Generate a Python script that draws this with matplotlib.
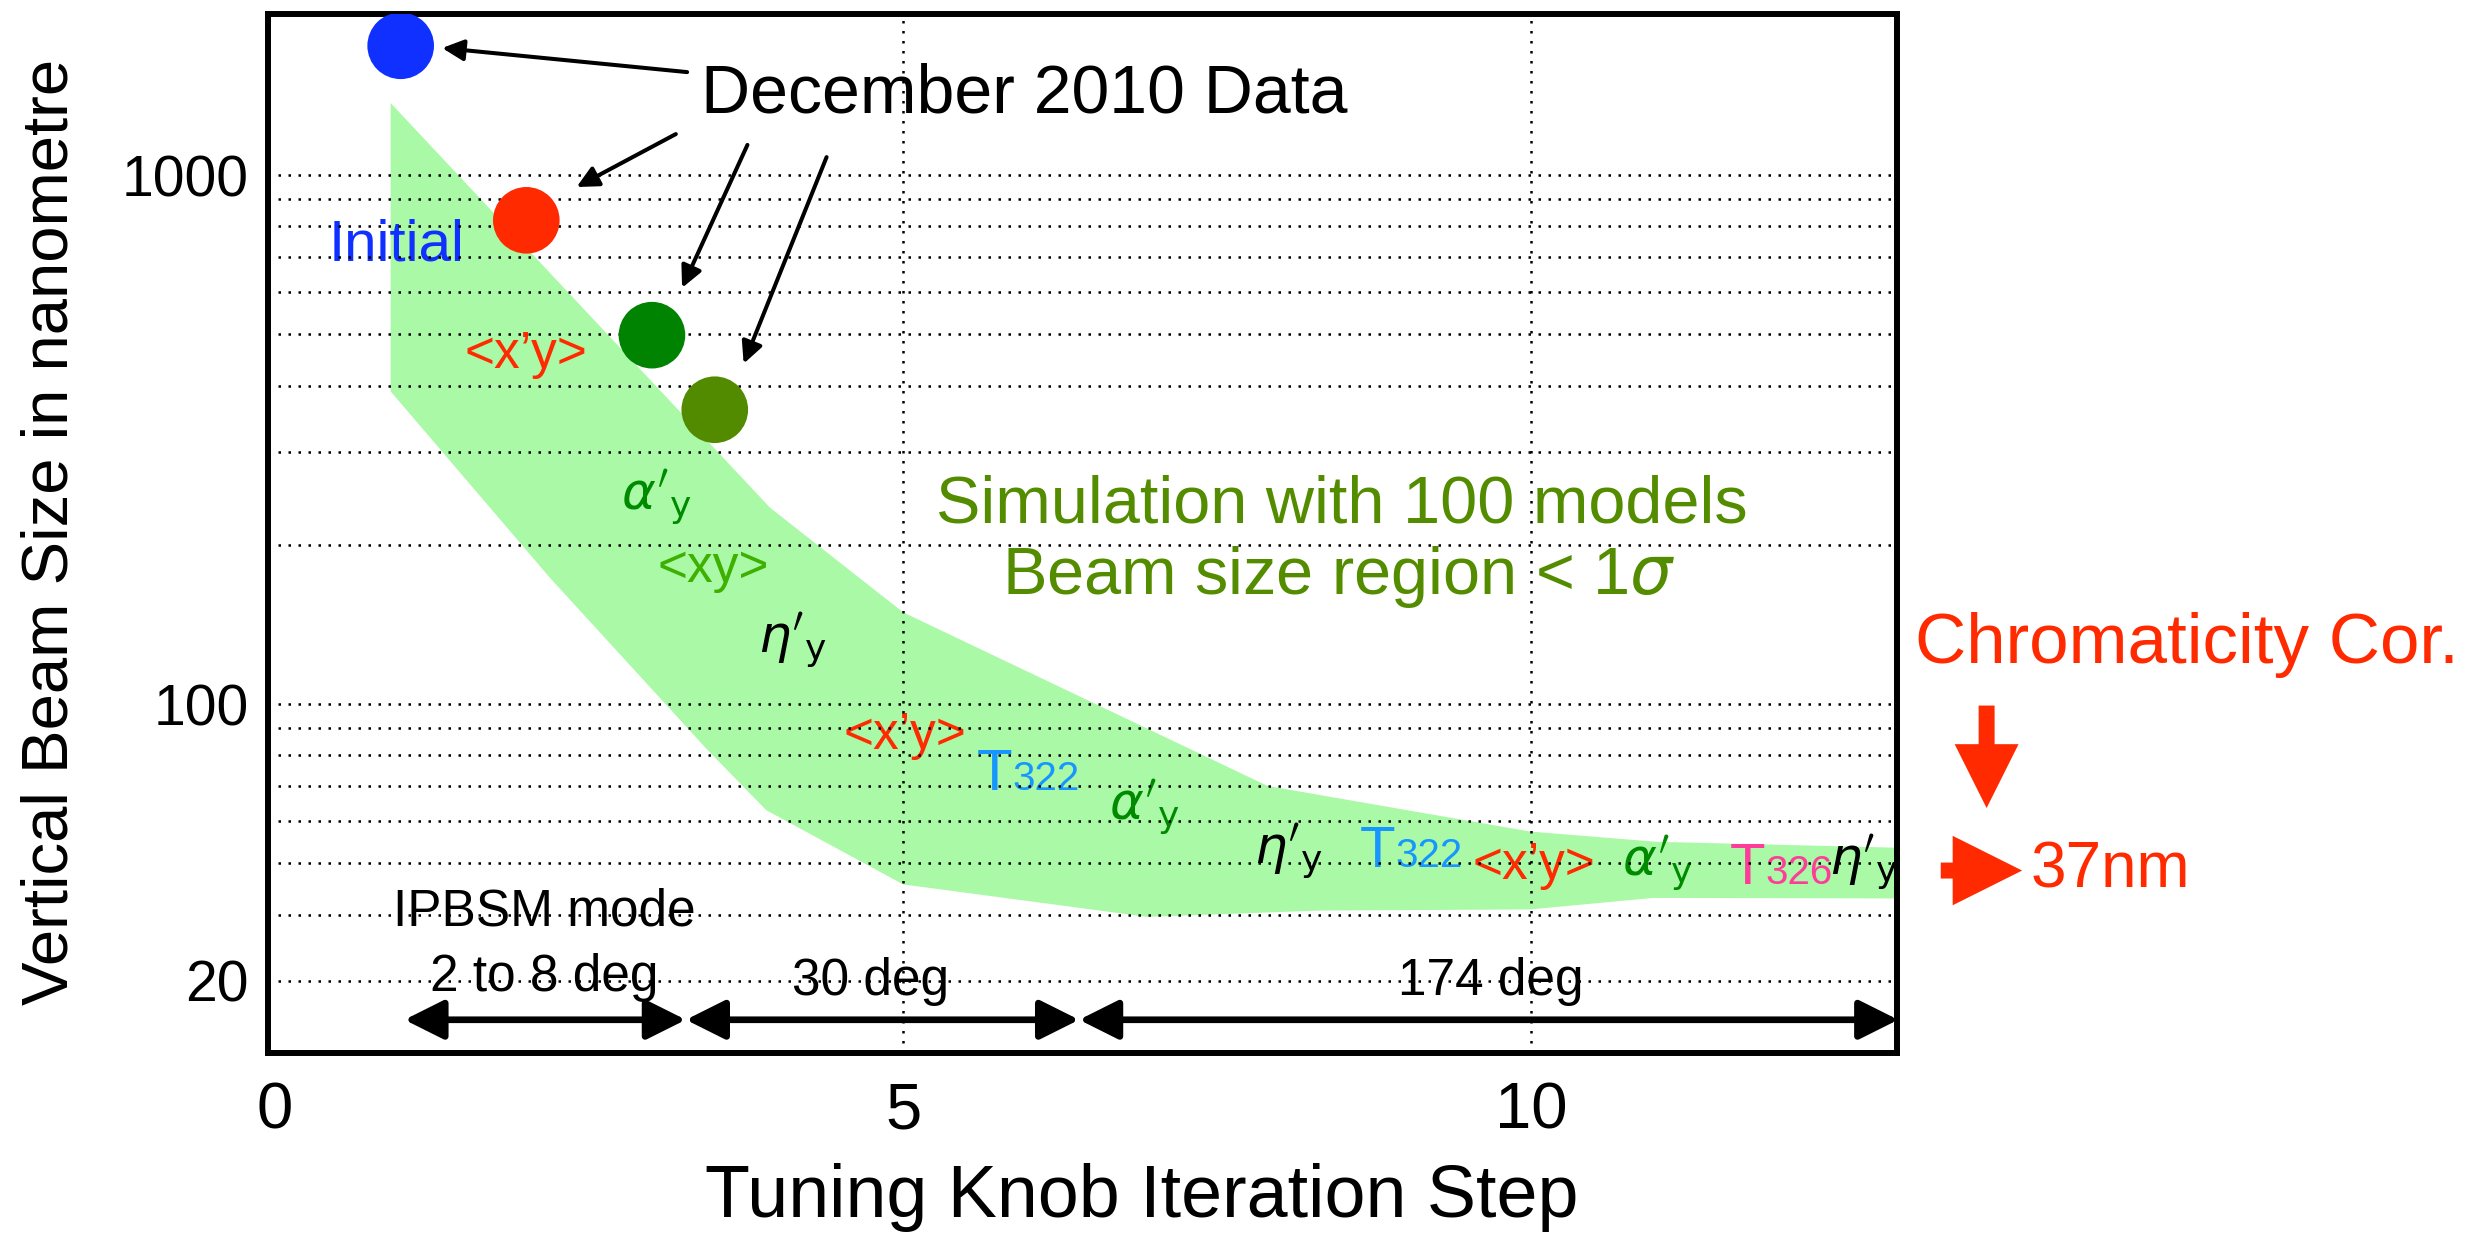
import matplotlib.pyplot as plt
from matplotlib.ticker import NullFormatter

plt.rcParams['font.family'] = ['Liberation Sans', 'DejaVu Sans']
plt.rcParams['mathtext.fontset'] = 'dejavusans'

# December 2010 measurements
steps = [1, 2, 3, 3.5]
sizes = [1755, 821, 498, 360]
point_colors = ['#1030FF', '#FF2A00', '#008300', '#528A00']

# simulation band, 100 models, beam size within 1 sigma
band_top_x = [0.92, 3.94, 5.0, 7.9, 9.99, 10.99, 12.91]
band_top_y = [1368, 235, 149, 70, 57.4, 54.9, 53.5]
band_bot_x = [0.92, 2.19, 3.44, 3.91, 5.0, 6.94, 8.32, 9.99, 10.97, 12.91]
band_bot_y = [390, 173, 82, 63, 45.6, 39.6, 40.7, 40.9, 43.0, 42.9]

grid_vals = [30, 40, 50, 60, 70, 80, 90, 100, 200, 300, 400, 500, 600, 700, 800, 900, 1000]
ytick_vals = [30, 100, 1000]
ytick_text = ['20', '100', '1000']
xtick_vals = [0, 5, 10]
xgrid_vals = [5, 10]

XPY = '<x’y>'
ALPHA = r"$\alpha'_{\mathrm{y}}$"
ETA = r"$\eta'_{\mathrm{y}}$"

# knobs applied along the band: text, x, y, colour
knob_text = [XPY, ALPHA, '<xy>', ETA, XPY, ALPHA, ETA, XPY, ALPHA, ETA]
knob_x = [2.0, 3.03, 3.49, 4.12, 5.01, 6.92, 8.07, 10.02, 11.0, 12.64]
knob_y = [457, 246, 180, 132, 87.1, 63.7, 52.6, 49.5, 49.9, 50.1]
knob_col = ['#FF2A00', '#008A00', '#3DB000', 'black', '#FF2A00', '#008A00',
            'black', '#FF2A00', '#008A00', 'black']

# sextupole knobs: name suffix, x, y (T baseline)
tknob_sub = ['322', '322', '326']
tknob_x = [5.87, 8.92, 11.86]
tknob_y = [68.9, 49.1, 45.6]
tknob_col = ['#1796FF', '#1796FF', '#FF3C9A']

# IPBSM mode ranges
span_edges = [1.03, 3.27, 6.40, 12.92]
span_y = 25.3

fig = plt.figure(figsize=(24.66, 12.35), dpi=100)
ax = fig.add_axes([0.10868, 0.14777, 0.66058, 0.84049])

ax.set_yscale('log')
ax.set_xlim(-0.056, 12.91)
ax.set_ylim(21.94, 2011)

band_x = band_top_x + band_bot_x[::-1]
band_y = band_top_y + band_bot_y[::-1]
ax.fill(band_x, band_y, color='#A9F9A6', lw=0, zorder=1)

ax.scatter(steps, sizes, s=2300, c=point_colors, lw=0, zorder=3)

# x grid only at 5 and 10, so keep minor locations that sit on major ticks
ax.xaxis.remove_overlapping_locs = False
ax.set_xticks(xtick_vals)
ax.set_xticks(xgrid_vals, minor=True)
ax.set_yticks(ytick_vals, labels=ytick_text)
ax.set_yticks(grid_vals, minor=True)
ax.yaxis.set_minor_formatter(NullFormatter())
ax.tick_params(axis='both', which='both', length=0)
ax.tick_params(axis='x', labelsize=47, pad=21)
ax.tick_params(axis='y', labelsize=41, pad=14)
ax.grid(True, which='both', axis='y', color='black', lw=1.8, linestyle=(0, (1, 3)))
ax.grid(True, which='minor', axis='x', color='black', lw=1.8, linestyle=(0, (1, 3)))
for sp in ax.spines.values():
    sp.set_linewidth(4.3)

# labels inside the plot
ax.text(0.97, 737, 'Initial', color='#1030FF', fontsize=42, ha='center', va='center', zorder=1.2)
for t, x, y, c in zip(knob_text, knob_x, knob_y, knob_col):
    ax.text(x, y, t, color=c, fontsize=37, ha='center', va='center', zorder=1.2)
for sub, x, y, c in zip(tknob_sub, tknob_x, tknob_y, tknob_col):
    ax.text(x, y, 'T', color=c, fontsize=42, ha='right', va='baseline', zorder=1.2)
    ax.text(x, y, sub, color=c, fontsize=29, ha='left', va='baseline', zorder=1.2)

ax.text(8.49, 237, 'Simulation with 100 models', color='#548C00', fontsize=48,
        ha='center', va='center', zorder=1.2)
ax.text(8.47, 174, r'Beam size region < 1$\sigma$', color='#548C00', fontsize=48,
        ha='center', va='center', zorder=1.2)

ax.text(5.96, 1422, 'December 2010 Data', fontsize=49, ha='center', va='center', zorder=1.2)
arrow_tail = [(3.28, 1565), (3.19, 1195), (3.76, 1140), (4.39, 1081)]
arrow_tip = [(1.33, 1738), (2.40, 949), (3.24, 612), (3.73, 440)]
for tail, tip in zip(arrow_tail, arrow_tip):
    ax.annotate('', xy=tip, xytext=tail, zorder=4,
                arrowprops=dict(arrowstyle='-|>,head_length=0.65,head_width=0.32',
                                mutation_scale=20, lw=2.9, color='black',
                                shrinkA=0, shrinkB=0))

# mode ranges along the bottom
for a, b in zip(span_edges[:-1], span_edges[1:]):
    ax.annotate('', xy=(b, span_y), xytext=(a, span_y), annotation_clip=False, zorder=4,
                arrowprops=dict(arrowstyle='<|-|>,head_length=0.8,head_width=0.4',
                                mutation_scale=30, lw=4.8, color='black',
                                shrinkA=0, shrinkB=0))
ax.text(2.14, 40.5, 'IPBSM mode', fontsize=37, ha='center', va='center', zorder=1.2)
ax.text(2.14, 30.4, '2 to 8 deg', fontsize=37, ha='center', va='center', zorder=1.2)
ax.text(4.74, 29.9, '30 deg', fontsize=37, ha='center', va='center', zorder=1.2)
ax.text(9.68, 29.9, '174 deg', fontsize=37, ha='center', va='center', zorder=1.2)

# axis titles
fig.text(0.4631, 0.0300, 'Tuning Knob Iteration Step', fontsize=53, ha='center', va='center')
fig.text(0.0203, 0.5692, 'Vertical Beam Size in nanometre', fontsize=47,
         rotation=90, ha='center', va='center')

# chromaticity correction note on the right
red = '#FF2A00'
fig.text(0.7766, 0.4777, 'Chromaticity Cor.', color=red, fontsize=51, ha='left', va='center')
fig.text(0.8236, 0.2951, '37nm', color=red, fontsize=46, ha='left', va='center')
ax.annotate('', xy=(0.8056, 0.3457), xycoords='figure fraction',
            xytext=(0.8056, 0.4287), textcoords='figure fraction',
            arrowprops=dict(arrowstyle='simple,head_length=0.46,head_width=0.46,tail_width=0.115',
                            mutation_scale=100, color=red, lw=0, shrinkA=0, shrinkB=0))
ax.annotate('', xy=(0.8200, 0.2951), xycoords='figure fraction',
            xytext=(0.7870, 0.2951), textcoords='figure fraction',
            arrowprops=dict(arrowstyle='simple,head_length=0.5,head_width=0.5,tail_width=0.115',
                            mutation_scale=100, color=red, lw=0, shrinkA=0, shrinkB=0))

fig.savefig('out.png', dpi=100)
